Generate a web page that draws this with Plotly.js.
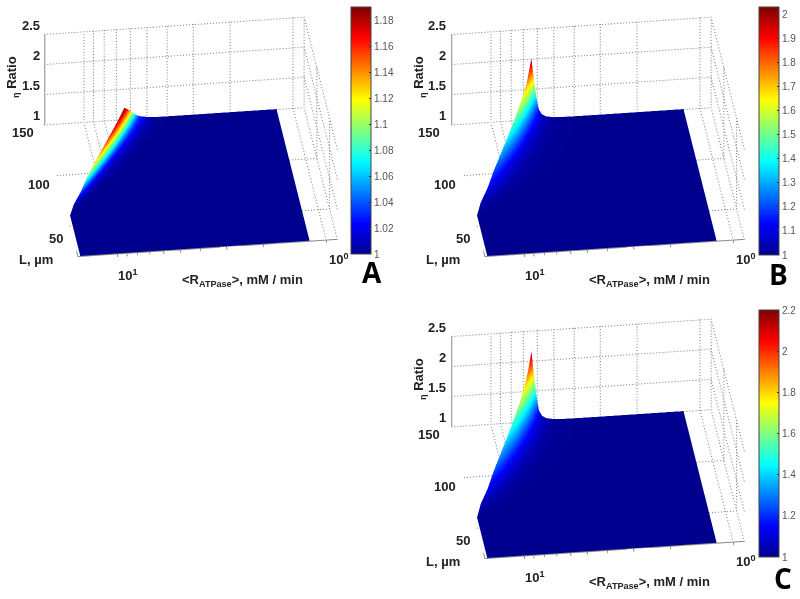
<!DOCTYPE html>
<html><head><meta charset="utf-8"><script src="https://cdn.plot.ly/plotly-3.0.1.min.js"></script>
<style>html,body{margin:0;padding:0;background:#fff}#g{width:800px;height:599px}</style></head><body><div id="g"></div>
<script>
// Data
const rTicks=[1,2,3,4,5,6,7,8,9,10];
const lTicks=[50,100,150];
const zTicks=[1,1.5,2,2.5];
const L=[20,40,60,70,80,90,100,110,120,130,140,145,150];
const rEdge=[15,15,15,14,12.6,11.5,10.4,9.4,8.5,7.7,7.0,6.7,6.4];
const rStep=[1,.985,.965,.945,.92,.89,.85,.78,.68,.5,.3];
const rEnd=1.2;
const one=[1,1,1,1,1,1,1,1,1,1,1,1];
const zA=[one,one,one,
[1.005,1.003,1.002,1.001,1,1,1,1,1,1,1,1],
[1.04,1.03,1.018,1.01,1.005,1.002,1.001,1,1,1,1,1],
[1.085,1.068,1.05,1.033,1.018,1.008,1.003,1.001,1,1,1,1],
[1.12,1.1,1.078,1.056,1.035,1.018,1.008,1.002,1,1,1,1],
[1.14,1.122,1.1,1.08,1.055,1.03,1.014,1.004,1,1,1,1],
[1.158,1.14,1.122,1.1,1.072,1.042,1.02,1.006,1,1,1,1],
[1.172,1.157,1.14,1.118,1.088,1.055,1.028,1.008,1.001,1,1,1],
[1.182,1.168,1.152,1.13,1.1,1.065,1.033,1.01,1.001,1,1,1],
[1.186,1.173,1.157,1.135,1.105,1.068,1.035,1.011,1.001,1,1,1],
[1.19,1.178,1.162,1.14,1.108,1.07,1.036,1.012,1.001,1,1,1]];
const zB=[one,one,one,
[1.04,1.036,1.031,1.026,1.02,1.014,1.009,1.004,1.001,1,1,1],
[1.11,1.1,1.086,1.072,1.055,1.039,1.025,1.011,1.003,1,1,1],
[1.2,1.18,1.156,1.13,1.1,1.07,1.044,1.02,1.006,1,1,1],
[1.29,1.255,1.22,1.18,1.135,1.092,1.057,1.026,1.008,1,1,1],
[1.38,1.335,1.28,1.228,1.166,1.11,1.066,1.029,1.009,1,1,1],
[1.48,1.42,1.345,1.27,1.188,1.12,1.07,1.031,1.009,1,1,1],
[1.59,1.5,1.395,1.295,1.195,1.12,1.07,1.029,1.009,1,1,1],
[1.72,1.6,1.44,1.3,1.175,1.105,1.062,1.026,1.007,1,1,1],
[1.85,1.67,1.46,1.28,1.16,1.088,1.048,1.022,1.005,1,1,1],
[2.02,1.82,1.57,1.34,1.15,1.07,1.03,1.009,1.002,1,1,1]];
const zC=[one,one,one,
[1.05,1.045,1.039,1.033,1.025,1.018,1.011,1.005,1.002,1,1,1],
[1.13,1.117,1.101,1.085,1.065,1.046,1.029,1.013,1.004,1,1,1],
[1.23,1.207,1.179,1.15,1.115,1.08,1.05,1.023,1.007,1,1,1],
[1.33,1.29,1.25,1.205,1.155,1.105,1.065,1.03,1.009,1,1,1],
[1.43,1.38,1.32,1.26,1.19,1.125,1.075,1.033,1.01,1,1,1],
[1.54,1.47,1.385,1.3,1.21,1.135,1.08,1.035,1.01,1,1,1],
[1.66,1.56,1.44,1.33,1.22,1.135,1.08,1.033,1.01,1,1,1],
[1.84,1.68,1.5,1.34,1.2,1.12,1.07,1.03,1.008,1,1,1],
[1.97,1.76,1.52,1.32,1.18,1.1,1.055,1.025,1.006,1,1,1],
[2.17,1.95,1.68,1.41,1.17,1.08,1.035,1.01,1.002,1,1,1]];
const cbTicksA=[1,1.02,1.04,1.06,1.08,1.1,1.12,1.14,1.16,1.18];
const cbTicksB=[1,1.1,1.2,1.3,1.4,1.5,1.6,1.7,1.8,1.9,2];
const cbTicksC=[1,1.2,1.4,1.6,1.8,2,2.2];

const jet=[[0,'#00008f'],[.125,'#0000ff'],[.375,'#00ffff'],[.625,'#ffff00'],[.875,'#ff0000'],[1,'#800000']];
const xMin=.885,xMax=15.4,lMin=20,lMax=150,zMin=1,zMax=2.5,zFloor=.992;
const xGrid=L.map((_,i)=>rStep.map(s=>rEdge[i]*s).concat([rEnd]));
const yGrid=L.map(v=>one.map(()=>v));
const bold={family:'Liberation Sans, Arial, sans-serif',size:13,color:'#222',weight:700};

function edgeAt(l){
  for(let i=1;i<L.length;i++) if(l<=L[i]){const t=(l-L[i-1])/(L[i]-L[i-1]);return rEdge[i-1]+(rEdge[i]-rEdge[i-1])*t}
  return rEdge[rEdge.length-1];
}
// dotted guide lines: sampled points between the ends of each grid line, left out where the sheet hides the floor
function dots(){
  const x=[],y=[],z=[];
  const add=(a,b)=>{
    const la=Math.log10(a[0]),lb=Math.log10(b[0]);
    const px=Math.hypot((la-lb)*208,a[1]-b[1],(a[2]-b[2])*61);
    const n=Math.max(1,Math.round(px/3));
    for(let i=0;i<=n;i++){const t=i/n;const X=Math.pow(10,la+(lb-la)*t),Y=a[1]+(b[1]-a[1])*t,Z=a[2]+(b[2]-a[2])*t;
      if(Z===zFloor&&X>=rEnd&&X<=edgeAt(Y)+.15)continue;
      x.push(X);y.push(Y);z.push(Z)}
  };
  rTicks.forEach(r=>{add([r,lMin,zFloor],[r,lMax,zFloor]);add([r,lMax,zFloor],[r,lMax,zMax])});
  lTicks.forEach(l=>{add([xMax,l,zFloor],[xMin,l,zFloor]);add([xMin,l,zFloor],[xMin,l,zMax])});
  zTicks.forEach(v=>{const w=v===1?zFloor:v;add([xMax,lMax,w],[xMin,lMax,w]);add([xMin,lMax,w],[xMin,lMin,w])});
  add([xMin,lMax,zFloor],[xMin,lMax,zMax]);
  return {x,y,z};
}
function axisLines(){
  const x=[],y=[],z=[];const add=(a,b)=>{x.push(a[0],b[0],null);y.push(a[1],b[1],null);z.push(a[2],b[2],null)};
  add([xMax,lMin,zFloor],[xMin,lMin,zFloor]);add([xMax,lMin,zFloor],[xMax,lMax,zFloor]);add([xMax,lMax,zFloor],[xMax,lMax,zMax]);
  rTicks.forEach(r=>add([r,lMin,zFloor],[r,lMin-3,zFloor]));
  return {x,y,z};
}
const traces=[],layout={width:800,height:599,margin:{l:0,r:0,t:0,b:0},paper_bgcolor:'#fff',showlegend:false,annotations:[]};
const panels=[
 {id:'scene',z:zA,cmax:1.19,ticks:cbTicksA,dx:0,dy:0,letter:'A',cb:[361,254,247],lx:372,ly:272},
 {id:'scene2',z:zB,cmax:2.033,ticks:cbTicksB,dx:407,dy:0,letter:'B',cb:[769,255,248],lx:778,ly:274},
 {id:'scene3',z:zC,cmax:2.2,ticks:cbTicksC,dx:407,dy:302,letter:'C',cb:[769,557,247],lx:783,ly:578}];
const K=1.96;
const lShift={50:[-5,-13],100:[-6,-9],150:[-9,-8]};
panels.forEach(p=>{
  traces.push({type:'surface',scene:p.id,x:xGrid,y:yGrid,z:p.z,cmin:1,cmax:p.cmax,colorscale:jet,
    lighting:{ambient:1,diffuse:0,specular:0,roughness:1,fresnel:0},hoverinfo:'skip',
    colorbar:{thickness:20,thicknessmode:'pixels',len:p.cb[2],lenmode:'pixels',x:(p.cb[0]-10)/800,xanchor:'left',y:1-p.cb[1]/599,yanchor:'bottom',xpad:0,ypad:0,
      tickvals:p.ticks,ticktext:p.ticks.map(String),ticks:'inside',ticklen:2,tickcolor:'#333',outlinecolor:'#444',outlinewidth:1,tickfont:{family:'Liberation Sans, Arial, sans-serif',size:10,color:'#555'}}});
  const g=dots();traces.push({type:'scatter3d',mode:'markers',scene:p.id,...g,marker:{color:'#888',size:.7,line:{width:0}},hoverinfo:'skip',showlegend:false});
  const a=axisLines();traces.push({type:'scatter3d',mode:'lines',scene:p.id,...a,line:{color:'#888',width:2},hoverinfo:'skip',showlegend:false});
  const cx=189.5+p.dx,cy=138+p.dy;const w=380,h=267;
  const ax={showgrid:false,showline:false,zeroline:false,showticklabels:false,ticks:'',showbackground:false,title:{text:''},showspikes:false};
  const anns=[];const lx=Math.log10(xMax);
  zTicks.forEach(v=>anns.push({x:lx,y:lMax-.5,z:v,text:String(v),showarrow:false,xanchor:'right',yanchor:'middle',xshift:-3,yshift:9,font:bold}));
  lTicks.forEach(v=>anns.push({x:lx,y:v-.5,z:zMin,text:String(v),showarrow:false,xanchor:'right',yanchor:'middle',xshift:lShift[v][0],yshift:lShift[v][1],font:bold}));
  anns.push({x:1,y:lMin,z:zMin,text:'10<sup>1</sup>',showarrow:false,xanchor:'center',yanchor:'middle',yshift:-22,xshift:11,font:bold});
  anns.push({x:0,y:lMin,z:zMin,text:'10<sup>0</sup>',showarrow:false,xanchor:'center',yanchor:'middle',yshift:-20,xshift:13,font:bold});
  layout[p.id]={domain:{x:[(cx-w/2)/800,(cx+w/2)/800],y:[1-(cy+h/2)/599,1-(cy-h/2)/599]},
    aspectmode:'manual',aspectratio:{x:1.01*K,y:1.01*K,z:.403*K},
    camera:{eye:{x:-.11*.94,y:-.851*.94,z:.514*.94},up:{x:0,y:0,z:1},center:{x:0,y:0,z:0},projection:{type:'orthographic'}},
    xaxis:{...ax,type:'log',range:[Math.log10(xMax)+.013,Math.log10(xMin)]},
    yaxis:{...ax,range:[lMin-3,lMax]},
    zaxis:{...ax,range:[zFloor,zMax]},annotations:anns};
  const t=(text,x,y,o={})=>layout.annotations.push({xref:'paper',yref:'paper',x:x/800,y:1-y/599,text,showarrow:false,font:bold,xanchor:'center',yanchor:'middle',...o});
  t('<sub>η</sub> Ratio',12+p.dx,77+p.dy,{textangle:-90});
  t('L, µm',36+p.dx,259+p.dy);
  t('&lt;R<sub>ATPase</sub>&gt;, mM / min',242+p.dx,280+p.dy);
  t(p.letter,p.lx,p.ly,{font:{family:'Open Sans, Liberation Sans, sans-serif',size:28,color:'#000',weight:700}});
});
Plotly.newPlot('g',traces,layout,{displayModeBar:false});
</script></body></html>
